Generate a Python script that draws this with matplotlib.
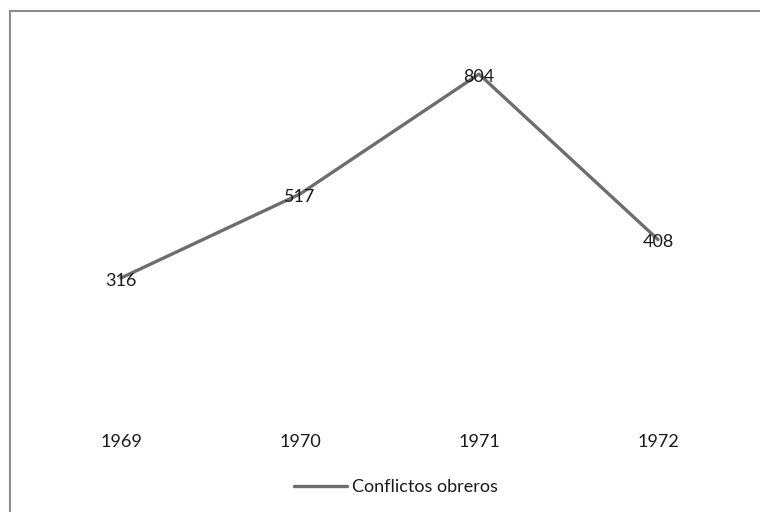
import matplotlib
matplotlib.use("Agg")
import matplotlib.pyplot as plt
from matplotlib.patches import Rectangle

years = ["1969", "1970", "1971", "1972"]
conflictos = [316, 517, 804, 408]
series_name = "Conflictos obreros"

plt.rcParams['font.family'] = ['Lato', 'DejaVu Sans']
FS = 13

fig = plt.figure(figsize=(7.6, 5.12), dpi=100)
ax = fig.add_axes([31.5 / 760, 102 / 512, 716 / 760, 376 / 512])

x = list(range(len(years)))
line, = ax.plot(x, conflictos, color="#6d6d6d", linewidth=2.4,
                solid_capstyle="round", label=series_name)

for xi, v in zip(x, conflictos):
    ax.annotate(str(v), (xi, v), xytext=(0, -2), textcoords="offset points",
                ha="center", va="center", fontsize=FS, color="#1a1a1a")

ax.set_xlim(-0.5, len(years) - 0.5)
ax.set_ylim(0, 900)
ax.set_yticks([])
ax.set_xticks(x)
ax.set_xticklabels(years, fontsize=FS, color="#1a1a1a")
ax.tick_params(axis="x", length=0, pad=17)
for s in ax.spines.values():
    s.set_visible(False)

leg = fig.legend(handles=[line], loc="center", bbox_to_anchor=(396 / 760, 1 - 487 / 512),
                 frameon=False, fontsize=FS, handlelength=2.9, handletextpad=0.3)
for t in leg.get_texts():
    t.set_color("#1a1a1a")

# outer chart border (right and bottom edges fall outside the canvas)
fig.patches.append(Rectangle((10 / 760, -0.1), 1.0, 1 - 11 / 512 + 0.1,
                             transform=fig.transFigure, fill=False,
                             edgecolor="#8c8c8c", linewidth=1.5))

fig.savefig("out.png", dpi=100)
